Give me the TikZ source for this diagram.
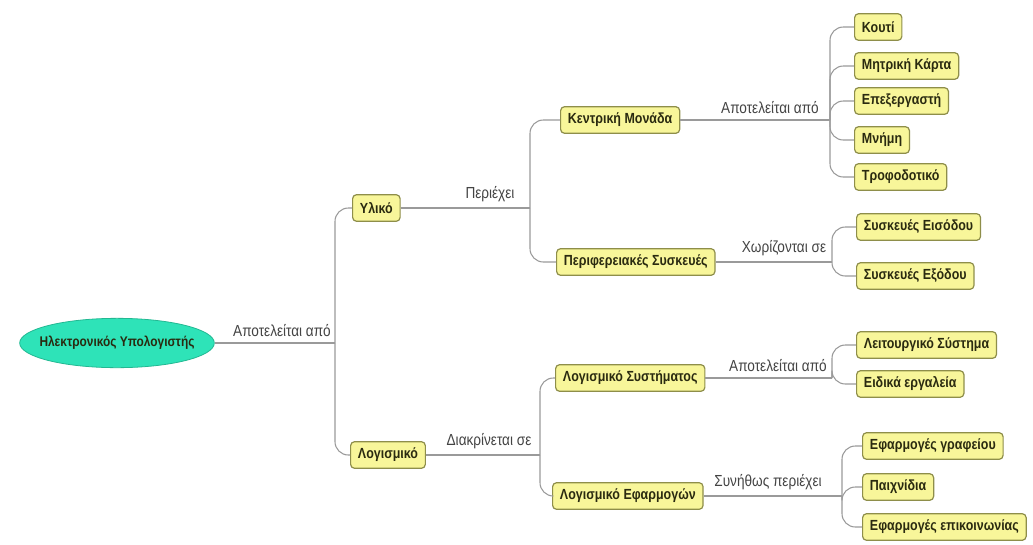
\documentclass[tikz,border=0pt]{standalone}
\usepackage{fontspec}
\setmainfont[FakeStretch=0.85]{Liberation Sans}
\usetikzlibrary{shapes.geometric}
\definecolor{boxfill}{HTML}{F8F69A}
\definecolor{boxdraw}{HTML}{8E8E4A}
\definecolor{rootfill}{HTML}{2EE3B8}
\definecolor{rootdraw}{HTML}{22B892}
\definecolor{linegray}{HTML}{9A9A9A}
\definecolor{txt}{HTML}{2A2A10}
\definecolor{lbltxt}{HTML}{444444}
\begin{document}
\begin{tikzpicture}[x=0.75pt,y=-0.75pt,
  box/.style={draw=boxdraw, fill=boxfill, rounded corners=3pt, line width=0.9pt,
    inner xsep=5.5pt, inner ysep=0pt, minimum height=20pt, anchor=west,
    font=\fontsize{11}{13}\selectfont\bfseries, text=txt},
  root/.style={ellipse, draw=rootdraw, fill=rootfill, line width=0.6pt,
    minimum width=146pt, minimum height=37pt, inner sep=0pt,
    font=\fontsize{10.5}{12}\selectfont\bfseries, text=txt},
  lbl/.style={anchor=south, inner sep=1pt, font=\fontsize{12}{14}\selectfont, text=lbltxt},
  conn/.style={draw=linegray, line width=0.8pt},
  br/.style={conn, rounded corners=10pt}]
\useasboundingbox[fill=white] (0,0) rectangle (1033,544);

% root
\node[root] (hy) at (117,343) {\makebox[0pt]{Ηλεκτρονικός Υπολογιστής}};
\coordinate (j0) at (335,343);
\node[box] (yliko) at (352,208) {Υλικό};
\node[box] (logism) at (350,455) {Λογισμικό};
\draw[conn] (hy.east) -- (j0);
\draw[br] (j0) |- (yliko.west);
\draw[br] (j0) |- (logism.west);
\node[lbl] (l0) at (282,338) {Αποτελείται από};

% Yliko
\coordinate (j1) at (530,208);
\node[box] (kent) at (560,120) {Κεντρική Μονάδα};
\node[box] (perif) at (556,262) {Περιφερειακές Συσκευές};
\draw[conn] (yliko.east) -- (j1);
\draw[br] (j1) |- (kent.west);
\draw[br] (j1) |- (perif.west);
\node[lbl] (l1) at (490,203) {Περιέχει};

% Kentriki monada
\coordinate (j2) at (830,120);
\draw[conn] (kent.east) -- (j2);
\node[lbl] (l2) at (770,115) {Αποτελείται από};
\node[box] (k1) at (854,27) {Κουτί};
\node[box] (k2) at (854,66) {Μητρική Κάρτα};
\node[box] (k3) at (854,101) {Επεξεργαστή};
\node[box] (k4) at (854,140) {Μνήμη};
\node[box] (k5) at (854,177) {Τροφοδοτικό};
\foreach \n in {k1,k2,k3,k4,k5} \draw[br] (j2) |- (\n.west);

% Perifereiakes
\coordinate (j3) at (832,262);
\draw[conn] (perif.east) -- (j3);
\node[lbl] (l3) at (784,257) {Χωρίζονται σε};
\node[box] (p1) at (856,227) {Συσκευές Εισόδου};
\node[box] (p2) at (856,276) {Συσκευές Εξόδου};
\foreach \n in {p1,p2} \draw[br] (j3) |- (\n.west);

% Logismiko
\coordinate (j4) at (540,455);
\node[box] (lsys) at (555,378) {Λογισμικό Συστήματος};
\node[box] (lefa) at (552,496) {Λογισμικό Εφαρμογών};
\draw[conn] (logism.east) -- (j4);
\draw[br] (j4) |- (lsys.west);
\draw[br] (j4) |- (lefa.west);
\node[lbl] (l4) at (489,450) {Διακρίνεται σε};

% Logismiko systimatos
\coordinate (j5) at (832,378);
\draw[conn] (lsys.east) -- (j5);
\node[lbl] (l5) at (778,373) {Αποτελείται από};
\node[box] (s1) at (856,345) {Λειτουργικό Σύστημα};
\node[box] (s2) at (856,384) {Ειδικά εργαλεία};
\foreach \n in {s1,s2} \draw[br] (j5) |- (\n.west);

% Logismiko efarmogon
\coordinate (j6) at (842,496);
\draw[conn] (lefa.east) -- (j6);
\node[lbl] (l6) at (768,491) {Συνήθως περιέχει};
\node[box] (e1) at (862,446) {Εφαρμογές γραφείου};
\node[box] (e2) at (862,487) {Παιχνίδια};
\node[box] (e3) at (862,527) {Εφαρμογές επικοινωνίας};
\foreach \n in {e1,e2,e3} \draw[br] (j6) |- (\n.west);
\end{tikzpicture}
\end{document}
